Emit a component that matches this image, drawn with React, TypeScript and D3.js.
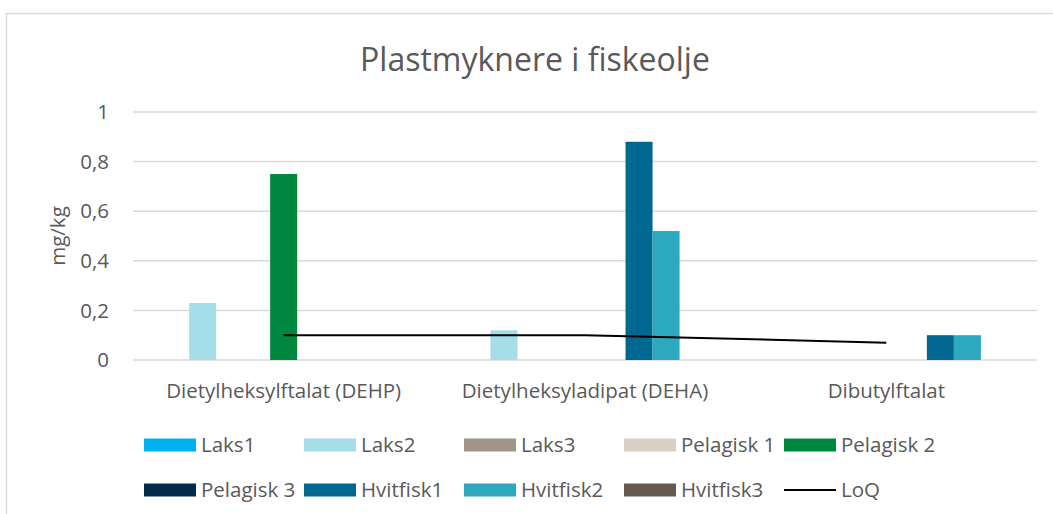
import React from 'react';
import * as d3 from 'd3';

const categories = ['Dietylheksylftalat (DEHP)', 'Dietylheksyladipat (DEHA)', 'Dibutylftalat'];
const seriesNames = ['Laks1', 'Laks2', 'Laks3', 'Pelagisk 1', 'Pelagisk 2', 'Pelagisk 3', 'Hvitfisk1', 'Hvitfisk2', 'Hvitfisk3'];
const seriesColors = ['#00B0F0', '#A5DEE9', '#A09588', '#D9D0C6', '#00873F', '#002B4C', '#006890', '#2CA8BF', '#655A4E'];
const laks1 = [null, null, null];
const laks2 = [0.23, 0.12, null];
const laks3 = [null, null, null];
const pelagisk1 = [null, null, null];
const pelagisk2 = [0.75, null, null];
const pelagisk3 = [null, null, null];
const hvitfisk1 = [null, 0.88, 0.1];
const hvitfisk2 = [null, 0.52, 0.1];
const hvitfisk3 = [null, null, null];
const loq = [0.1, 0.1, 0.07];
const yTicks = [0, 0.2, 0.4, 0.6, 0.8, 1];

const seriesValues: (number | null)[][] = [laks1, laks2, laks3, pelagisk1, pelagisk2, pelagisk3, hvitfisk1, hvitfisk2, hvitfisk3];

const W = 1053;
const H = 514;
const margin = { top: 112, right: 16, bottom: 154, left: 133 };
const font = '"Open Sans", Lato, sans-serif';
const textColor = '#595959';
const fs = 20.5;

export default function App() {
  const x = d3.scaleBand<string>().domain(categories).range([margin.left, W - margin.right]);
  const groupWidth = x.bandwidth() * 0.807;
  const xs = d3.scaleBand<string>().domain(seriesNames).range([0, groupWidth]);
  const y = d3.scaleLinear().domain([0, 1]).range([H - margin.bottom, margin.top]);
  const fmt = (v: number) => String(v).replace('.', ',');

  const line = d3.line<number>()
    .x((_, i) => (x(categories[i]) as number) + x.bandwidth() / 2)
    .y(v => y(v));

  const legendItems = [...seriesNames.map((n, i) => ({ name: n, color: seriesColors[i], line: false })), { name: 'LoQ', color: '#000', line: true }];

  return (
    <svg width={W} height={H} style={{ position: 'absolute', left: 0, top: 0 }} fontFamily={font}>
      <rect x={0} y={0} width={W} height={H} fill="#fff" />
      <path d={`M6.5,${H} V13.5 H${W}`} fill="none" stroke="#D9D9D9" strokeWidth={1.5} />
      <text x={535} y={71} textAnchor="middle" fontSize={32} fill={textColor}>Plastmyknere i fiskeolje</text>

      {yTicks.map(t => (
        <g key={t}>
          <line x1={margin.left} x2={W - margin.right} y1={y(t)} y2={y(t)} stroke="#D9D9D9" strokeWidth={1.5} />
          <text x={109} y={y(t)} dy="0.35em" textAnchor="end" fontSize={fs} fill={textColor}>{fmt(t)}</text>
        </g>
      ))}
      <text transform={`translate(58,${(y(0) + y(1)) / 2}) rotate(-90)`} textAnchor="middle" dy="0.35em" fontSize={fs} fill={textColor}>mg/kg</text>

      {categories.map((c, ci) => {
        const x0 = (x(c) as number) + (x.bandwidth() - groupWidth) / 2;
        return (
          <g key={c}>
            {seriesNames.map((s, si) => {
              const v = seriesValues[si][ci];
              if (v == null) return null;
              return <rect key={s} x={x0 + (xs(s) as number)} y={y(v)} width={xs.bandwidth()} height={y(0) - y(v)} fill={seriesColors[si]} />;
            })}
            <text x={(x(c) as number) + x.bandwidth() / 2} y={398} textAnchor="middle" fontSize={fs} fill={textColor}>{c}</text>
          </g>
        );
      })}

      <path d={line(loq) || ''} fill="none" stroke="#000" strokeWidth={2} />

      {legendItems.map((it, i) => {
        const lx = 144 + (i % 5) * 160;
        const ly = i < 5 ? 445 : 490;
        return (
          <g key={it.name}>
            {it.line
              ? <line x1={lx} x2={lx + 52} y1={ly} y2={ly} stroke={it.color} strokeWidth={2} />
              : <rect x={lx} y={ly - 6.5} width={52} height={13} fill={it.color} />}
            <text x={lx + 57} y={ly} dy="0.35em" fontSize={fs} fill={textColor}>{it.name}</text>
          </g>
        );
      })}
    </svg>
  );
}
